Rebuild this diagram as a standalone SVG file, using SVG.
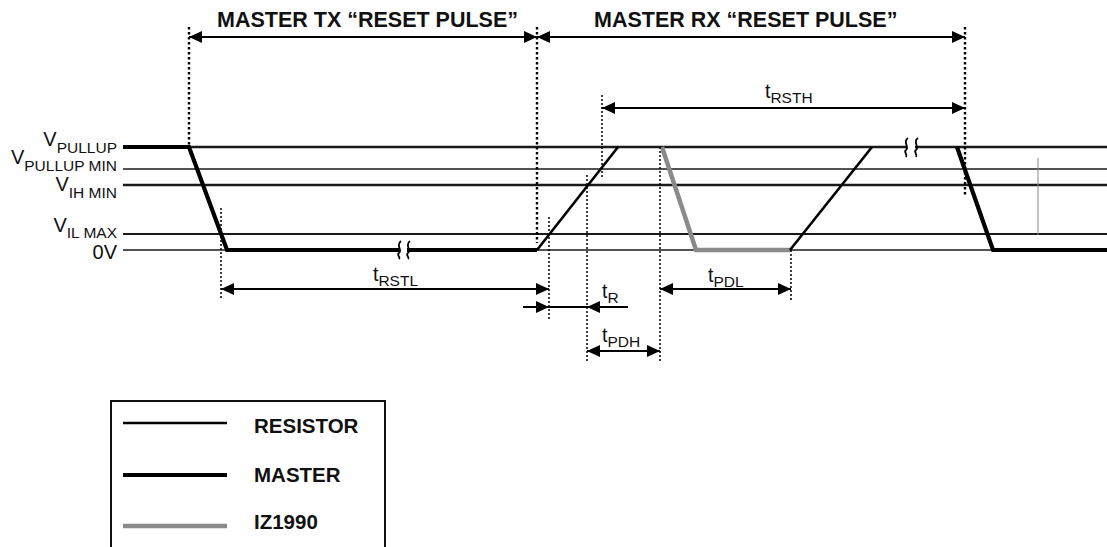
<svg xmlns="http://www.w3.org/2000/svg" width="1107" height="547" viewBox="0 0 1107 547">
<style>
  text { font-family: "Liberation Sans", Arial, sans-serif; fill: #111; }
  .hdr { font-size: 21.5px; font-weight: bold; }
  .leg { font-size: 20.5px; font-weight: bold; }
  .vl { font-size: 20px; }
  .sub { font-size: 15.5px; }
  .tm { font-size: 19.5px; }
  .ref { stroke: #1a1a1a; fill: none; }
  .master { stroke: #000; stroke-width: 4.2; fill: none; stroke-linejoin: miter; }
  .res { stroke: #000; stroke-width: 2.6; fill: none; }
  .iz { stroke: #8a8a8a; stroke-width: 4.5; fill: none; }
  .dotH { stroke: #000; stroke-width: 2.4; stroke-dasharray: 2.5 2.5; fill: none; }
  .dot { stroke: #000; stroke-width: 1.5; stroke-dasharray: 2 2; fill: none; }
  .dim { stroke: #000; stroke-width: 1.8; fill: none; }
  .brk { stroke: #000; stroke-width: 1.8; fill: none; }
</style>
<defs>
  <marker id="ah" markerUnits="userSpaceOnUse" markerWidth="13" markerHeight="12" refX="13" refY="6" orient="auto-start-reverse">
    <path d="M0,0 L13,6 L0,12 Z" fill="#000"/>
  </marker>
</defs>
<rect x="0" y="0" width="1107" height="547" fill="#fff"/>

<g id="reference-levels">
  <line class="ref" x1="123" y1="147" x2="1107" y2="147" stroke-width="2.5"/>
  <line class="ref" x1="123" y1="169" x2="1107" y2="169" stroke-width="1.6"/>
  <line class="ref" x1="123" y1="185" x2="1107" y2="185" stroke-width="2.6"/>
  <line class="ref" x1="123" y1="234" x2="1107" y2="234" stroke-width="2"/>
  <line class="ref" x1="123" y1="250" x2="1107" y2="250" stroke-width="1.6"/>
  <line x1="1038" y1="158" x2="1038" y2="235" stroke="#888" stroke-width="1"/>
</g>

<g id="level-labels">
  <text class="vl" x="117" y="146" text-anchor="end">V<tspan class="sub" dy="7">PULLUP</tspan></text>
  <text class="vl" x="117" y="164" text-anchor="end">V<tspan class="sub" dy="7">PULLUP MIN</tspan></text>
  <text class="vl" x="117" y="191" text-anchor="end">V<tspan class="sub" dy="7">IH MIN</tspan></text>
  <text class="vl" x="117" y="232" text-anchor="end">V<tspan class="sub" dy="6">IL MAX</tspan></text>
  <text class="vl" x="117" y="259" text-anchor="end">0V</text>
</g>

<g id="waveforms">
  <polyline id="master-tx" class="master" points="123,147 189,147 227,250 537,250"/>
  <line id="resistor-rise-1" class="res" x1="537" y1="250" x2="618" y2="147"/>
  <polyline id="iz1990-pulse" class="iz" points="662,147 696,250 790,250"/>
  <line id="resistor-rise-2" class="res" x1="790" y1="250" x2="872" y2="147"/>
  <polyline id="master-fall" class="master" points="957,147 993,250 1107,250"/>
</g>

<g id="breaks">
  <rect x="400" y="244" width="7" height="12" fill="#fff"/>
  <path class="brk" d="M401,241 C395,245 403,250 399,253 C396,255 401,257 399,259"/>
  <path class="brk" d="M410,241 C404,245 412,250 408,253 C405,255 410,257 408,259"/>
  <rect x="907" y="141" width="8" height="12" fill="#fff"/>
  <path class="brk" d="M908,138 C902,142 910,147 906,150 C903,152 908,154 906,157"/>
  <path class="brk" d="M918,138 C912,142 920,147 916,150 C913,152 918,154 916,157"/>
</g>

<g id="guides">
  <line class="dotH" x1="189" y1="27" x2="189" y2="147"/>
  <line class="dotH" x1="537" y1="27" x2="537" y2="243"/>
  <line class="dotH" x1="965" y1="27" x2="965" y2="197"/>
  <line class="dot" x1="221" y1="208" x2="221" y2="300"/>
  <line class="dot" x1="549" y1="217" x2="549" y2="320"/>
  <line class="dot" x1="587" y1="175" x2="587" y2="362"/>
  <line class="dot" x1="602" y1="95" x2="602" y2="178"/>
  <line class="dot" x1="660" y1="147" x2="660" y2="362"/>
  <line class="dot" x1="791" y1="250" x2="791" y2="300"/>
</g>

<g id="connectors">
  <line id="arrow-tx" class="dim" x1="189" y1="37" x2="537" y2="37" marker-start="url(#ah)" marker-end="url(#ah)"/>
  <line id="arrow-rx" class="dim" x1="537" y1="37" x2="965" y2="37" marker-start="url(#ah)" marker-end="url(#ah)"/>
  <line id="arrow-trsth" class="dim" x1="602" y1="108" x2="965" y2="108" marker-start="url(#ah)" marker-end="url(#ah)"/>
  <line id="arrow-trstl" class="dim" x1="221" y1="289" x2="549" y2="289" marker-start="url(#ah)" marker-end="url(#ah)"/>
  <line id="arrow-tpdl" class="dim" x1="660" y1="289" x2="791" y2="289" marker-start="url(#ah)" marker-end="url(#ah)"/>
  <g id="arrow-tr">
    <line class="dim" x1="523" y1="307" x2="628" y2="307"/>
    <path d="M536,301 L549,307 L536,313 Z" fill="#000"/>
    <path d="M600,301 L587,307 L600,313 Z" fill="#000"/>
  </g>
  <line id="arrow-tpdh" class="dim" x1="587" y1="351" x2="660" y2="351" marker-start="url(#ah)" marker-end="url(#ah)"/>
</g>

<g id="headers">
  <text class="hdr" x="217" y="27">MASTER TX “RESET PULSE”</text>
  <text class="hdr" x="594" y="27">MASTER RX “RESET PULSE”</text>
</g>

<g id="timing-labels">
  <text class="tm" x="373" y="281">t<tspan class="sub" dy="5">RSTL</tspan></text>
  <text class="tm" x="765" y="98">t<tspan class="sub" dy="5">RSTH</tspan></text>
  <text class="tm" x="602" y="298">t<tspan class="sub" dy="5">R</tspan></text>
  <text class="tm" x="602" y="342">t<tspan class="sub" dy="5">PDH</tspan></text>
  <text class="tm" x="708" y="282">t<tspan class="sub" dy="5">PDL</tspan></text>
</g>

<g id="legend">
  <rect x="111" y="401" width="274" height="160" fill="none" stroke="#111" stroke-width="2"/>
  <line x1="123" y1="423" x2="227" y2="423" stroke="#000" stroke-width="2.6"/>
  <line x1="123" y1="475" x2="227" y2="475" stroke="#000" stroke-width="4.2"/>
  <line x1="123" y1="526" x2="227" y2="526" stroke="#8a8a8a" stroke-width="4.5"/>
  <text class="leg" x="254" y="433">RESISTOR</text>
  <text class="leg" x="254" y="482">MASTER</text>
  <text class="leg" x="254" y="529">IZ1990</text>
</g>
</svg>
